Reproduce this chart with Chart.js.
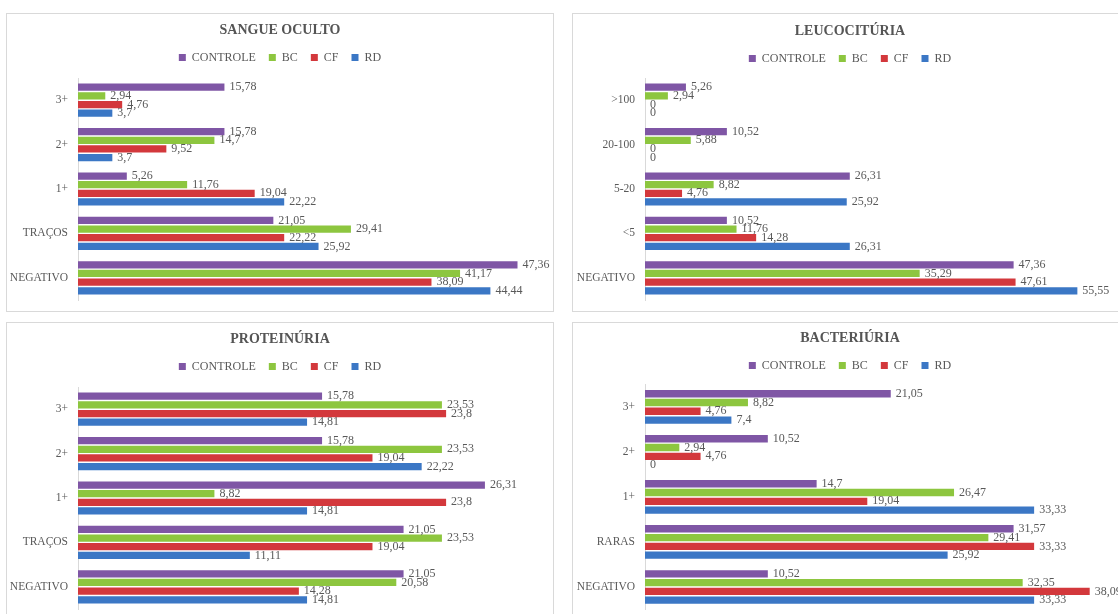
<!DOCTYPE html>
<html lang="pt">
<head>
  <meta charset="UTF-8">
  <title>Exame de urina - grupos</title>
  <script src="https://cdn.jsdelivr.net/npm/chart.js"></script>
  <style>
    body {
      margin: 0;
      background: #fff;
      width: 1118px;
      height: 614px;
      overflow: hidden;
      position: relative;
    }
    .panel {
      position: absolute;
      box-sizing: border-box;
      border: 1px solid #d9d9d9;
      background: #fff;
    }
    .left { left: 6px; width: 548px; }
    .right { left: 572px; width: 556px; }
    .top { top: 13px; height: 299px; }
    .bottom { top: 322px; height: 299px; }
  </style>
</head>
<body>
  <div class="panel left top"><canvas id="sangue"></canvas></div>
  <div class="panel right top"><canvas id="leuco"></canvas></div>
  <div class="panel left bottom"><canvas id="proteina"></canvas></div>
  <div class="panel right bottom"><canvas id="bacteria"></canvas></div>
  <script>
    // Percentages per group
    const groups = ['CONTROLE', 'BC', 'CF', 'RD'];

    const sangueLabels = ['3+', '2+', '1+', 'TRAÇOS', 'NEGATIVO'];
    const sangueControle = [15.78, 15.78, 5.26, 21.05, 47.36];
    const sangueBC = [2.94, 14.7, 11.76, 29.41, 41.17];
    const sangueCF = [4.76, 9.52, 19.04, 22.22, 38.09];
    const sangueRD = [3.7, 3.7, 22.22, 25.92, 44.44];

    const leucoLabels = ['>100', '20-100', '5-20', '<5', 'NEGATIVO'];
    const leucoControle = [5.26, 10.52, 26.31, 10.52, 47.36];
    const leucoBC = [2.94, 5.88, 8.82, 11.76, 35.29];
    const leucoCF = [0, 0, 4.76, 14.28, 47.61];
    const leucoRD = [0, 0, 25.92, 26.31, 55.55];

    const proteinaLabels = ['3+', '2+', '1+', 'TRAÇOS', 'NEGATIVO'];
    const proteinaControle = [15.78, 15.78, 26.31, 21.05, 21.05];
    const proteinaBC = [23.53, 23.53, 8.82, 23.53, 20.58];
    const proteinaCF = [23.8, 19.04, 23.8, 19.04, 14.28];
    const proteinaRD = [14.81, 22.22, 14.81, 11.11, 14.81];

    const bacteriaLabels = ['3+', '2+', '1+', 'RARAS', 'NEGATIVO'];
    const bacteriaControle = [21.05, 10.52, 14.7, 31.57, 10.52];
    const bacteriaBC = [8.82, 2.94, 26.47, 29.41, 32.35];
    const bacteriaCF = [4.76, 4.76, 19.04, 33.33, 38.09];
    const bacteriaRD = [7.4, 0, 33.33, 25.92, 33.33];

    const colors = ['#7f56a5', '#8dc63f', '#d3383c', '#3b77c5'];
    const serif = "'Liberation Serif', 'Times New Roman', serif";

    Chart.defaults.font.family = serif;
    Chart.defaults.color = '#595959';

    // value written just past the end of each bar, with decimal comma
    const valueLabels = {
      id: 'valueLabels',
      afterDatasetsDraw(chart) {
        const ctx = chart.ctx;
        ctx.save();
        ctx.font = '12px ' + serif;
        ctx.fillStyle = '#595959';
        ctx.textAlign = 'left';
        ctx.textBaseline = 'middle';
        chart.data.datasets.forEach((ds, i) => {
          chart.getDatasetMeta(i).data.forEach((bar, j) => {
            ctx.fillText(String(ds.data[j]).replace('.', ','), bar.x + 5, bar.y);
          });
        });
        ctx.restore();
      }
    };

    // extra room under the legend
    const legendGap = {
      id: 'legendGap',
      beforeInit(chart, args, opts) {
        const fit = chart.legend.fit;
        chart.legend.fit = function () {
          fit.bind(chart.legend)();
          this.height += opts.gap || 0;
        };
      }
    };

    // long category names may spill into the left padding instead of being clipped
    const unclipTicks = {
      id: 'unclipTicks',
      afterLayout(chart) {
        chart.scales.y.left = 0;
      }
    };

    function drawChart(id, title, labels, series, xMax, box) {
      new Chart(document.getElementById(id), {
        type: 'bar',
        data: {
          labels: labels,
          datasets: series.map((data, i) => ({
            label: groups[i],
            data: data,
            backgroundColor: colors[i],
            borderWidth: 0,
            categoryPercentage: 0.78,
            barPercentage: 0.84
          }))
        },
        options: {
          indexAxis: 'y',
          responsive: true,
          maintainAspectRatio: false,
          animation: false,
          layout: {
            // same on both sides so title and legend stay centred
            padding: { left: box.side, right: box.side, top: 0, bottom: box.bottom }
          },
          scales: {
            x: { display: false, min: 0, max: xMax },
            y: {
              grid: { display: false, drawTicks: false },
              border: { display: true, color: '#d9d9d9' },
              ticks: { padding: 10, font: { size: 11.5 }, color: '#595959' },
              afterFit(scale) {
                scale.width = box.axis - box.side;
                scale.paddingTop = 0;
                scale.paddingBottom = 0;
              }
            }
          },
          plugins: {
            title: {
              display: true,
              text: title,
              color: '#555',
              font: { size: 14, weight: 'bold', lineHeight: 1.2 },
              padding: { top: box.titleTop, bottom: 0 }
            },
            legend: {
              labels: {
                boxWidth: 7,
                boxHeight: 7,
                padding: 13,
                color: '#595959',
                font: { size: 12, lineHeight: 1 }
              }
            },
            legendGap: { gap: box.gap },
            tooltip: { enabled: false }
          }
        },
        plugins: [valueLabels, legendGap, unclipTicks]
      });
    }

    drawChart('sangue', 'SANGUE OCULTO', sangueLabels,
      [sangueControle, sangueBC, sangueCF, sangueRD], 50,
      { axis: 71, side: 11, bottom: 11, titleTop: 7.6, gap: 4.6 });

    drawChart('leuco', 'LEUCOCITÚRIA', leucoLabels,
      [leucoControle, leucoBC, leucoCF, leucoRD], 60,
      { axis: 72, side: 15, bottom: 11, titleTop: 8.6, gap: 3.6 });

    drawChart('proteina', 'PROTEINÚRIA', proteinaLabels,
      [proteinaControle, proteinaBC, proteinaCF, proteinaRD], 30,
      { axis: 71, side: 11, bottom: 11, titleTop: 7.6, gap: 4.6 });

    drawChart('bacteria', 'BACTERIÚRIA', bacteriaLabels,
      [bacteriaControle, bacteriaBC, bacteriaCF, bacteriaRD], 40,
      { axis: 72, side: 15, bottom: 10.5, titleTop: 6.6, gap: 3 });
  </script>
</body>
</html>
